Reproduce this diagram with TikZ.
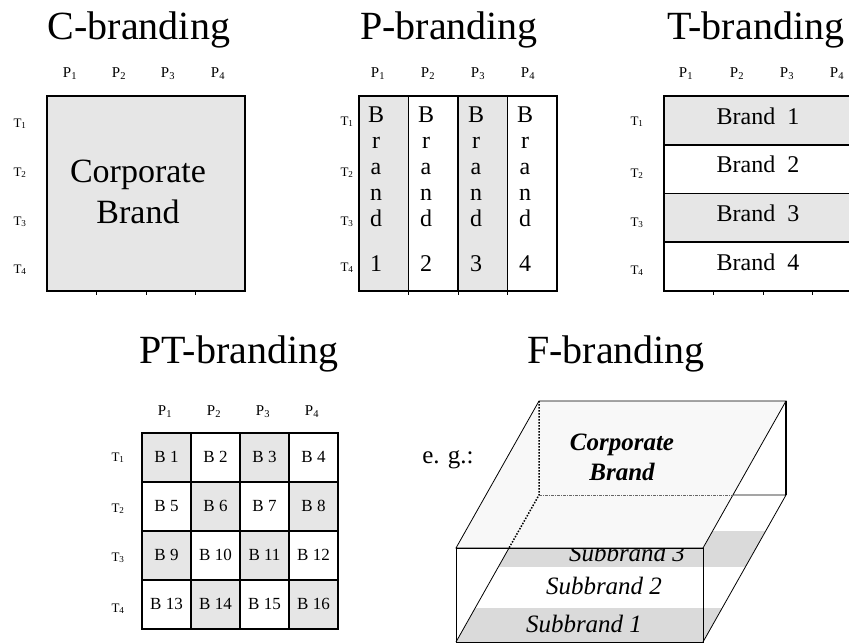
\documentclass[tikz,border=0pt]{standalone}
\usepackage{fontspec}
\setmainfont{Liberation Serif}
\definecolor{Black}{RGB}{0,0,0}
\definecolor{White}{RGB}{255,255,255}
\definecolor{Grey}{RGB}{230,230,230}
\definecolor{DarkGrey}{RGB}{218,218,218}
\definecolor{LightGrey}{RGB}{248,248,248}
\newcommand{\titlesize}		{\fontsize{40}{44}\selectfont}
\newcommand{\bigsize}		{\fontsize{34}{41}\selectfont}
\newcommand{\brandsize}		{\fontsize{24}{26}\selectfont}
\newcommand{\fbrandsize}	{\fontsize{25}{30}\selectfont}
\newcommand{\cellsize}		{\fontsize{17}{20}\selectfont}
\newcommand{\psize}			{\fontsize{15}{18}\selectfont}
\newcommand{\tsize}			{\fontsize{13}{16}\selectfont}
\newcommand{\prodlabel}[1]	{P\textsubscript{#1}}
\newcommand{\timelabel}[1]	{T\textsubscript{#1}}

\begin{document}
\begin{tikzpicture}[x=1pt, y=-1pt,
		title/.style={font=\titlesize, anchor=base},
		plabel/.style={font=\psize, anchor=base},
		tlabel/.style={font=\tsize, anchor=base},
		cell/.style={font=\cellsize, inner sep=0pt},
		frame/.style={draw=Black, line width=1.6pt},
		tick/.style={draw=Black, line width=0.8pt},
		edge3d/.style={draw=Black, line width=0.8pt},
		hidden/.style={draw=Black, line width=1.5pt, dash pattern=on 1.5pt off 1.5pt},
		subbrand/.style={font=\fbrandsize\itshape, anchor=base}]
		
		\useasboundingbox (0,0) rectangle (849,643);
		
		% Titles
		\node[title] (CTitle) at (139,39) {C-branding};
		\node[title] (PTitle) at (449,39) {P-branding};
		\node[title] (TTitle) at (756,39) {T-branding};
		\node[title] (PTTitle) at (239,363) {PT-branding};
		\node[title] (FTitle) at (616,363) {F-branding};
		
		% C-branding
		\filldraw[fill=Grey, frame] (47,96) rectangle (245,291);
		\draw[tick] (96.5,291) -- (96.5,295) (146,291) -- (146,295) (195.5,291) -- (195.5,295);
		\node[plabel] (CP1) at (70,77) {\prodlabel{1}};
		\node[plabel] (CP2) at (119,77) {\prodlabel{2}};
		\node[plabel] (CP3) at (168,77) {\prodlabel{3}};
		\node[plabel] (CP4) at (218,77) {\prodlabel{4}};
		\node[tlabel] (CT1) at (20,127) {\timelabel{1}};
		\node[tlabel] (CT2) at (20,176) {\timelabel{2}};
		\node[tlabel] (CT3) at (20,225) {\timelabel{3}};
		\node[tlabel] (CT4) at (20,273) {\timelabel{4}};
		\node[align=center, font=\bigsize, anchor=north, inner sep=0pt] (CBrand) at (138,160) {Corporate\\Brand};
		
		% P-branding
		\fill[Grey] (359,96) rectangle (408.5,291);
		\fill[Grey] (458,96) rectangle (507.5,291);
		\draw[frame] (359,96) rectangle (557,291);
		\draw[frame] (408.5,96) -- (408.5,291) (458,96) -- (458,291) (507.5,96) -- (507.5,291);
		\draw[tick] (408.5,291) -- (408.5,295) (458,291) -- (458,295) (507.5,291) -- (507.5,295);
		\node[plabel] (PP1) at (378,77) {\prodlabel{1}};
		\node[plabel] (PP2) at (428,77) {\prodlabel{2}};
		\node[plabel] (PP3) at (478,77) {\prodlabel{3}};
		\node[plabel] (PP4) at (528,77) {\prodlabel{4}};
		\node[tlabel] (PT1) at (347,125) {\timelabel{1}};
		\node[tlabel] (PT2) at (347,176) {\timelabel{2}};
		\node[tlabel] (PT3) at (347,225) {\timelabel{3}};
		\node[tlabel] (PT4) at (347,271) {\timelabel{4}};
		\node[align=center, font=\brandsize, anchor=north, inner sep=0pt] (PBrand1) at (376,107) {B\\r\\a\\n\\d\\[19pt]1};
		\node[align=center, font=\brandsize, anchor=north, inner sep=0pt] (PBrand2) at (426,107) {B\\r\\a\\n\\d\\[19pt]2};
		\node[align=center, font=\brandsize, anchor=north, inner sep=0pt] (PBrand3) at (476,107) {B\\r\\a\\n\\d\\[19pt]3};
		\node[align=center, font=\brandsize, anchor=north, inner sep=0pt] (PBrand4) at (525,107) {B\\r\\a\\n\\d\\[19pt]4};
		
		% T-branding
		\fill[Grey] (664,96) rectangle (862,144.75);
		\fill[Grey] (664,193.5) rectangle (862,242.25);
		\draw[frame] (664,96) rectangle (862,291);
		\draw[frame] (664,144.75) -- (862,144.75) (664,193.5) -- (862,193.5) (664,242.25) -- (862,242.25);
		\draw[tick] (713.5,291) -- (713.5,295) (763,291) -- (763,295) (812.5,291) -- (812.5,295);
		\node[plabel] (TP1) at (686,77) {\prodlabel{1}};
		\node[plabel] (TP2) at (737,77) {\prodlabel{2}};
		\node[plabel] (TP3) at (787,77) {\prodlabel{3}};
		\node[plabel] (TP4) at (837,77) {\prodlabel{4}};
		\node[tlabel] (TT1) at (637,125) {\timelabel{1}};
		\node[tlabel] (TT2) at (637,177) {\timelabel{2}};
		\node[tlabel] (TT3) at (637,226) {\timelabel{3}};
		\node[tlabel] (TT4) at (637,274) {\timelabel{4}};
		\node[font=\brandsize, anchor=base] (TBrand1) at (758,124) {Brand~~1};
		\node[font=\brandsize, anchor=base] (TBrand2) at (758,172) {Brand~~2};
		\node[font=\brandsize, anchor=base] (TBrand3) at (758,221) {Brand~~3};
		\node[font=\brandsize, anchor=base] (TBrand4) at (758,270) {Brand~~4};
		
		% PT-branding
		\fill[Grey] (142,433) rectangle (191,482);
		\fill[Grey] (240,433) rectangle (289,482);
		\fill[Grey] (191,482) rectangle (240,531);
		\fill[Grey] (289,482) rectangle (338,531);
		\fill[Grey] (142,531) rectangle (191,580);
		\fill[Grey] (240,531) rectangle (289,580);
		\fill[Grey] (191,580) rectangle (240,629);
		\fill[Grey] (289,580) rectangle (338,629);
		\draw[frame] (142,433) rectangle (338,629);
		\draw[frame] (191,433) -- (191,629) (240,433) -- (240,629) (289,433) -- (289,629);
		\draw[frame] (142,482) -- (338,482) (142,531) -- (338,531) (142,580) -- (338,580);
		\node[plabel] (PTP1) at (165,415) {\prodlabel{1}};
		\node[plabel] (PTP2) at (214,415) {\prodlabel{2}};
		\node[plabel] (PTP3) at (263,415) {\prodlabel{3}};
		\node[plabel] (PTP4) at (312,415) {\prodlabel{4}};
		\node[tlabel] (PTT1) at (118,461) {\timelabel{1}};
		\node[tlabel] (PTT2) at (118,512) {\timelabel{2}};
		\node[tlabel] (PTT3) at (118,561) {\timelabel{3}};
		\node[tlabel] (PTT4) at (118,612) {\timelabel{4}};
		\node[cell] (B1) at (166.5,457) {B 1};
		\node[cell] (B2) at (215.5,457) {B 2};
		\node[cell] (B3) at (264.5,457) {B 3};
		\node[cell] (B4) at (313.5,457) {B 4};
		\node[cell] (B5) at (166.5,506) {B 5};
		\node[cell] (B6) at (215.5,506) {B 6};
		\node[cell] (B7) at (264.5,506) {B 7};
		\node[cell] (B8) at (313.5,506) {B 8};
		\node[cell] (B9) at (166.5,555) {B 9};
		\node[cell] (B10) at (215.5,555) {B 10};
		\node[cell] (B11) at (264.5,555) {B 11};
		\node[cell] (B12) at (313.5,555) {B 12};
		\node[cell] (B13) at (166.5,604) {B 13};
		\node[cell] (B14) at (215.5,604) {B 14};
		\node[cell] (B15) at (264.5,604) {B 15};
		\node[cell] (B16) at (313.5,604) {B 16};
		
		% F-branding
		\coordinate (FLT) at (456,548);
		\coordinate (FRT) at (703,548);
		\coordinate (BLT) at (539,401);
		\coordinate (BRT) at (786,401);
		\coordinate (FLB) at (456,642);
		\coordinate (FRB) at (703,642);
		\coordinate (BLB) at (539,495);
		\coordinate (BRB) at (786,495);
		\coordinate (FX) at (509,548);
		\coordinate (BX) at (733,495);
		
		% Layers
		\begin{scope}
			\clip (FLB) -- (BLB) -- (BRB) -- (FRB) -- cycle;
			\fill[DarkGrey] (440,531) rectangle (800,567);
			\fill[DarkGrey] (440,608) rectangle (800,642);
		\end{scope}
		\node[subbrand] (Sub3) at (627,561) {Subbrand 3};
		\node[subbrand] (Sub2) at (604,594) {Subbrand 2};
		\node[subbrand] (Sub1) at (584,632) {Subbrand 1};
		
		% Box
		\draw[edge3d, line width=1.4pt] (BRT) -- (BRB);
		\draw[edge3d] (BX) -- (BRB) -- (FRB);
		\filldraw[fill=LightGrey, edge3d] (BLT) -- (BRT) -- (FRT) -- (FLT) -- cycle;
		\draw[hidden] (BLT) -- (BLB) -- (FX);
		\draw[draw=Black!60, line width=0.6pt, dash pattern=on 3pt off 1pt on 1pt off 1pt] (BLB) -- (BX);
		\draw[edge3d] (FLB) -- (FX);
		\draw[edge3d] (FLT) rectangle (FRB);
		
		\node[align=center, font=\fbrandsize\bfseries\itshape, anchor=north, inner sep=0pt] (FBrand) at (622,434) {Corporate\\Brand};
		\node[font=\fbrandsize, anchor=base] (EG) at (448,463) {e. g.:};
		
	\end{tikzpicture}
\end{document}
